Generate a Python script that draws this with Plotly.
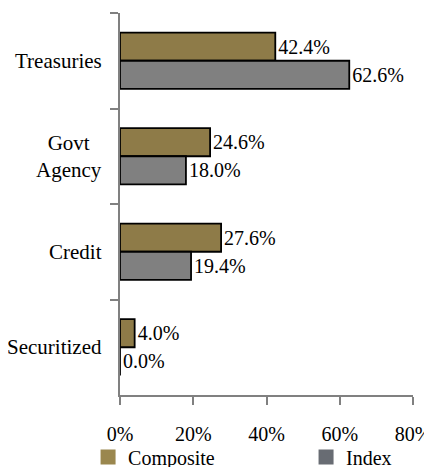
import plotly.graph_objects as go

categories = ["Treasuries", "Govt<br>Agency", "Credit", "Securitized"]
composite = [42.4, 24.6, 27.6, 4.0]
index_vals = [62.6, 18.0, 19.4, 0.0]
x_ticks = [0, 20, 40, 60, 80]
x_tick_labels = ["0%", "20%", "40%", "60%", "80%"]

FONT = "'Liberation Serif', 'DejaVu Serif', 'Times New Roman', serif"
C_COMP = "#8E7B48"
C_IDX = "#808080"

fig = go.Figure()
fig.add_trace(go.Bar(
    y=categories, x=composite, orientation="h", name="Composite",
    marker=dict(color=C_COMP, line=dict(color="black", width=1.8)),
    text=[f"{v:.1f}%" for v in composite], textposition="outside",
    textfont=dict(family=FONT, size=20, color="black"),
    constraintext="none", cliponaxis=False, showlegend=False,
))
fig.add_trace(go.Bar(
    y=categories, x=index_vals, orientation="h", name="Index",
    marker=dict(color=C_IDX, line=dict(color="black", width=1.8)),
    text=[f"{v:.1f}%" for v in index_vals], textposition="outside",
    textfont=dict(family=FONT, size=20, color="black"),
    constraintext="none", cliponaxis=False, showlegend=False,
))
# legend entries
fig.add_trace(go.Scatter(x=[None], y=[None], mode="markers", name="Composite",
                         marker=dict(symbol="square", size=15, color="#9A874E"),
                         legend="legend"))
fig.add_trace(go.Scatter(x=[None], y=[None], mode="markers", name="Index",
                         marker=dict(symbol="square", size=15, color="#686C73"),
                         legend="legend2"))

for c in categories:
    fig.add_annotation(x=0, y=c, xref="x", yref="y", text=c, showarrow=False,
                       xanchor="right", align="center", xshift=-16,
                       font=dict(family=FONT, size=21, color="black"))

# the page body adds an 8px margin, so the figure is 8px smaller and margins compensate
fig.update_layout(
    width=424, height=459,
    margin=dict(l=112, r=19, t=5, b=72, autoexpand=False),
    paper_bgcolor="white", plot_bgcolor="white",
    barmode="group", bargap=0.41, bargroupgap=0,
    font=dict(family=FONT, size=20, color="black"),
    xaxis=dict(range=[0, 80], tickvals=x_ticks, ticktext=x_tick_labels,
               showgrid=False, zeroline=False, showline=True, linecolor="#808080",
               linewidth=1.5, ticks="outside", ticklen=8, tickcolor="#808080",
               tickwidth=1.5, ticklabelstandoff=12,
               tickfont=dict(family=FONT, size=20, color="black")),
    yaxis=dict(categoryorder="array", categoryarray=categories, autorange="reversed",
               showgrid=False, zeroline=False, showline=True, linecolor="#808080",
               linewidth=1.5, ticks="outside", ticklen=8, tickcolor="#808080",
               tickwidth=1.5, tickson="boundaries", showticklabels=False),
    legend=dict(x=-0.109, xanchor="left", y=-0.162, yanchor="middle",
                font=dict(family=FONT, size=20, color="black"),
                bgcolor="rgba(0,0,0,0)", borderwidth=0),
    legend2=dict(x=0.635, xanchor="left", y=-0.162, yanchor="middle",
                 font=dict(family=FONT, size=20, color="black"),
                 bgcolor="rgba(0,0,0,0)", borderwidth=0),
)

fig.write_html("out.html")
